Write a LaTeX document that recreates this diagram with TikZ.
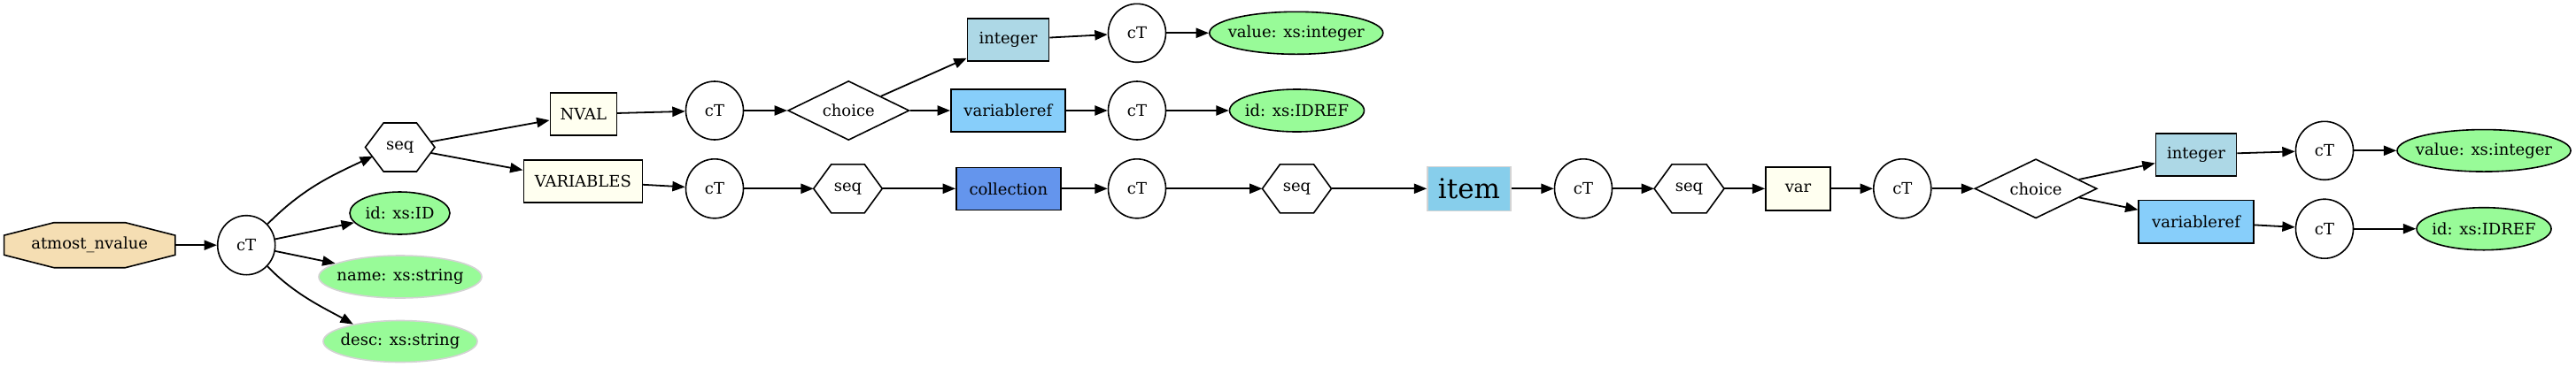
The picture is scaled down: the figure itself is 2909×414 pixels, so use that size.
\documentclass[tikz,border=0pt]{standalone}
\usepackage{fontspec}
\setmainfont{DejaVu Serif}
\usetikzlibrary{shapes.geometric,arrows.meta}
\definecolor{wheatc}{HTML}{F5DEB3}
\definecolor{palegreenc}{HTML}{98FB98}
\definecolor{ivoryc}{HTML}{FFFFF0}
\definecolor{lightbluec}{HTML}{ADD8E6}
\definecolor{lskyc}{HTML}{87CEFA}
\definecolor{cornflowerc}{HTML}{6495ED}
\definecolor{skybluec}{HTML}{87CEEB}
\definecolor{lgrayc}{HTML}{D3D3D3}
\pgfdeclarelayer{bg}
\pgfsetlayers{bg,main}
\newcommand\myhex[2]{\draw[shapeline,fill=white] (#1.west) -- ([xshift=#2]#1.north west) -- ([xshift=-#2]#1.north east) -- (#1.east) -- ([xshift=-#2]#1.south east) -- ([xshift=#2]#1.south west) -- cycle;}
\newcommand\myoct[3]{\draw[shapeline,fill=wheatc] ([yshift=#3]#1.south west) -- ([yshift=-#3]#1.north west) -- ([xshift=#2]#1.north west) -- ([xshift=-#2]#1.north east) -- ([yshift=-#3]#1.north east) -- ([yshift=#3]#1.south east) -- ([xshift=-#2]#1.south east) -- ([xshift=#2]#1.south west) -- cycle;}
\begin{document}
\begin{tikzpicture}[x=0.5pt,y=0.5pt,
  every node/.style={font=\fontsize{9}{11}\selectfont, inner sep=0pt},
  sz/.style 2 args={minimum width={#1*0.5pt}, minimum height={#2*0.5pt}},
  ctnode/.style={ellipse, draw, line width=0.8pt, fill=white},
  attr/.style={ellipse, draw, line width=0.8pt, fill=palegreenc, inner xsep=-12pt},
  optattr/.style={ellipse, draw=lgrayc, line width=0.8pt, fill=palegreenc, inner xsep=-12pt},
  elem/.style={rectangle, draw, line width=0.8pt},
  choicenode/.style={diamond, draw, line width=0.8pt, shape aspect=2, fill=white},
  hexnode/.style={rectangle, outer sep=0pt},
  shapeline/.style={draw=black, line width=0.8pt},
  edge/.style={line width=0.9pt, -{Triangle[length=7.2pt,width=5.6pt]}},
]
\useasboundingbox (0,0) rectangle (2909,-414);
\node[hexnode, sz={193.2}{51}] (atm) at (101.2,-277.2) {atmost\_nvalue};
\node[ctnode, sz={65}{67}] (c1) at (278.2,-277.2) {cT};
\node[hexnode, sz={78.5}{55}] (s1) at (451.8,-166.5) {seq};
\node[attr, sz={113}{48}] (idA) at (451.5,-241) {id: xs:ID};
\node[optattr, sz={184}{48}] (nameA) at (452,-313) {name: xs:string};
\node[optattr, sz={174}{47}] (descA) at (452,-386) {desc: xs:string};
\node[elem, fill=ivoryc, sz={75}{48}] (nval) at (658.8,-129) {NVAL};
\node[elem, fill=ivoryc, sz={134}{48}] (vars) at (658.3,-205) {VARIABLES};
\node[ctnode, sz={65}{66}] (c2) at (807,-125) {cT};
\node[ctnode, sz={65}{67}] (c3) at (807,-213.3) {cT};
\node[choicenode, sz={137}{67}] (ch1) at (958.3,-125) {choice};
\node[hexnode, sz={77.5}{55}] (s2) at (957.5,-213.3) {seq};
\node[elem, fill=lightbluec, sz={92}{48}] (int1) at (1138.5,-45) {integer};
\node[elem, fill=lskyc, sz={129}{48.5}] (vref1) at (1138.3,-125) {variableref};
\node[elem, fill=cornflowerc, sz={118}{48}] (coll) at (1138.8,-213.3) {collection};
\node[ctnode, sz={65}{66}] (c4) at (1284,-37.3) {cT};
\node[ctnode, sz={65}{66}] (c5) at (1284,-125) {cT};
\node[ctnode, sz={65}{67}] (c6) at (1284,-213.3) {cT};
\node[attr, sz={196}{48}] (val1) at (1463.8,-37.3) {value: xs:integer};
\node[attr, sz={152}{48}] (idr1) at (1464.5,-125) {id: xs:IDREF};
\node[hexnode, sz={78}{55}] (s3) at (1464.5,-213.3) {seq};
\node[elem, draw=lgrayc, fill=skybluec, sz={94}{50}, font=\fontsize{15.5}{18}\selectfont] (item) at (1659,-213.3) {item};
\node[ctnode, sz={65}{67}] (c7) at (1788,-213.3) {cT};
\node[hexnode, sz={79}{55}] (s4) at (1907.5,-213.3) {seq};
\node[elem, fill=ivoryc, sz={73}{49}] (var) at (2030.5,-213.3) {var};
\node[ctnode, sz={65}{67}] (c8) at (2148.3,-213.3) {cT};
\node[choicenode, sz={138}{67}] (ch2) at (2299,-213.3) {choice};
\node[elem, fill=lightbluec, sz={91}{48}] (int2) at (2480,-174.7) {integer};
\node[elem, fill=lskyc, sz={129.5}{48.5}] (vref2) at (2480,-250.8) {variableref};
\node[ctnode, sz={65}{66}] (c9) at (2625,-170.3) {cT};
\node[ctnode, sz={65}{67}] (c10) at (2625,-258.7) {cT};
\node[attr, sz={196}{47.5}] (val2) at (2805,-170.3) {value: xs:integer};
\node[attr, sz={152}{48}] (idr2) at (2805,-258.7) {id: xs:IDREF};
\begin{pgfonlayer}{bg}
\myoct{atm}{28.15pt}{7.2pt}
\myhex{s1}{10.3pt}
\myhex{s2}{10pt}
\myhex{s3}{10pt}
\myhex{s4}{10pt}
\end{pgfonlayer}
\draw[edge] (atm) -- (c1);
\draw[edge] (c1) to[out=45,in=205] ([shift={(-30.8,-10.2)}]s1.center);
\draw[edge] (c1) -- (idA);
\draw[edge] (c1) -- (nameA);
\draw[edge] (c1.-45) .. controls +(30,-32) and +(-30,17) .. (descA.160);
\draw[edge] ([shift={(34.6,6.2)}]s1.center) -- (nval);
\draw[edge] ([shift={(34.5,-6.4)}]s1.center) -- (vars);
\draw[edge] (nval) -- (c2);
\draw[edge] (vars) -- (c3);
\draw[edge] (c2) -- (ch1);
\draw[edge] (ch1) -- (int1);
\draw[edge] (ch1) -- (vref1);
\draw[edge] (int1) -- (c4);
\draw[edge] (vref1) -- (c5);
\draw[edge] (c4) -- (val1);
\draw[edge] (c5) -- (idr1);
\draw[edge] (c3) -- (s2);
\draw[edge] (s2) -- (coll);
\draw[edge] (coll) -- (c6);
\draw[edge] (c6) -- (s3);
\draw[edge] (s3) -- (item);
\draw[edge] (item) -- (c7);
\draw[edge] (c7) -- (s4);
\draw[edge] (s4) -- (var);
\draw[edge] (var) -- (c8);
\draw[edge] (c8) -- (ch2);
\draw[edge] (ch2) -- (int2);
\draw[edge] (ch2) -- (vref2);
\draw[edge] (int2) -- (c9);
\draw[edge] (vref2) -- (c10);
\draw[edge] (c9) -- (val2);
\draw[edge] (c10) -- (idr2);
\end{tikzpicture}
\end{document}
